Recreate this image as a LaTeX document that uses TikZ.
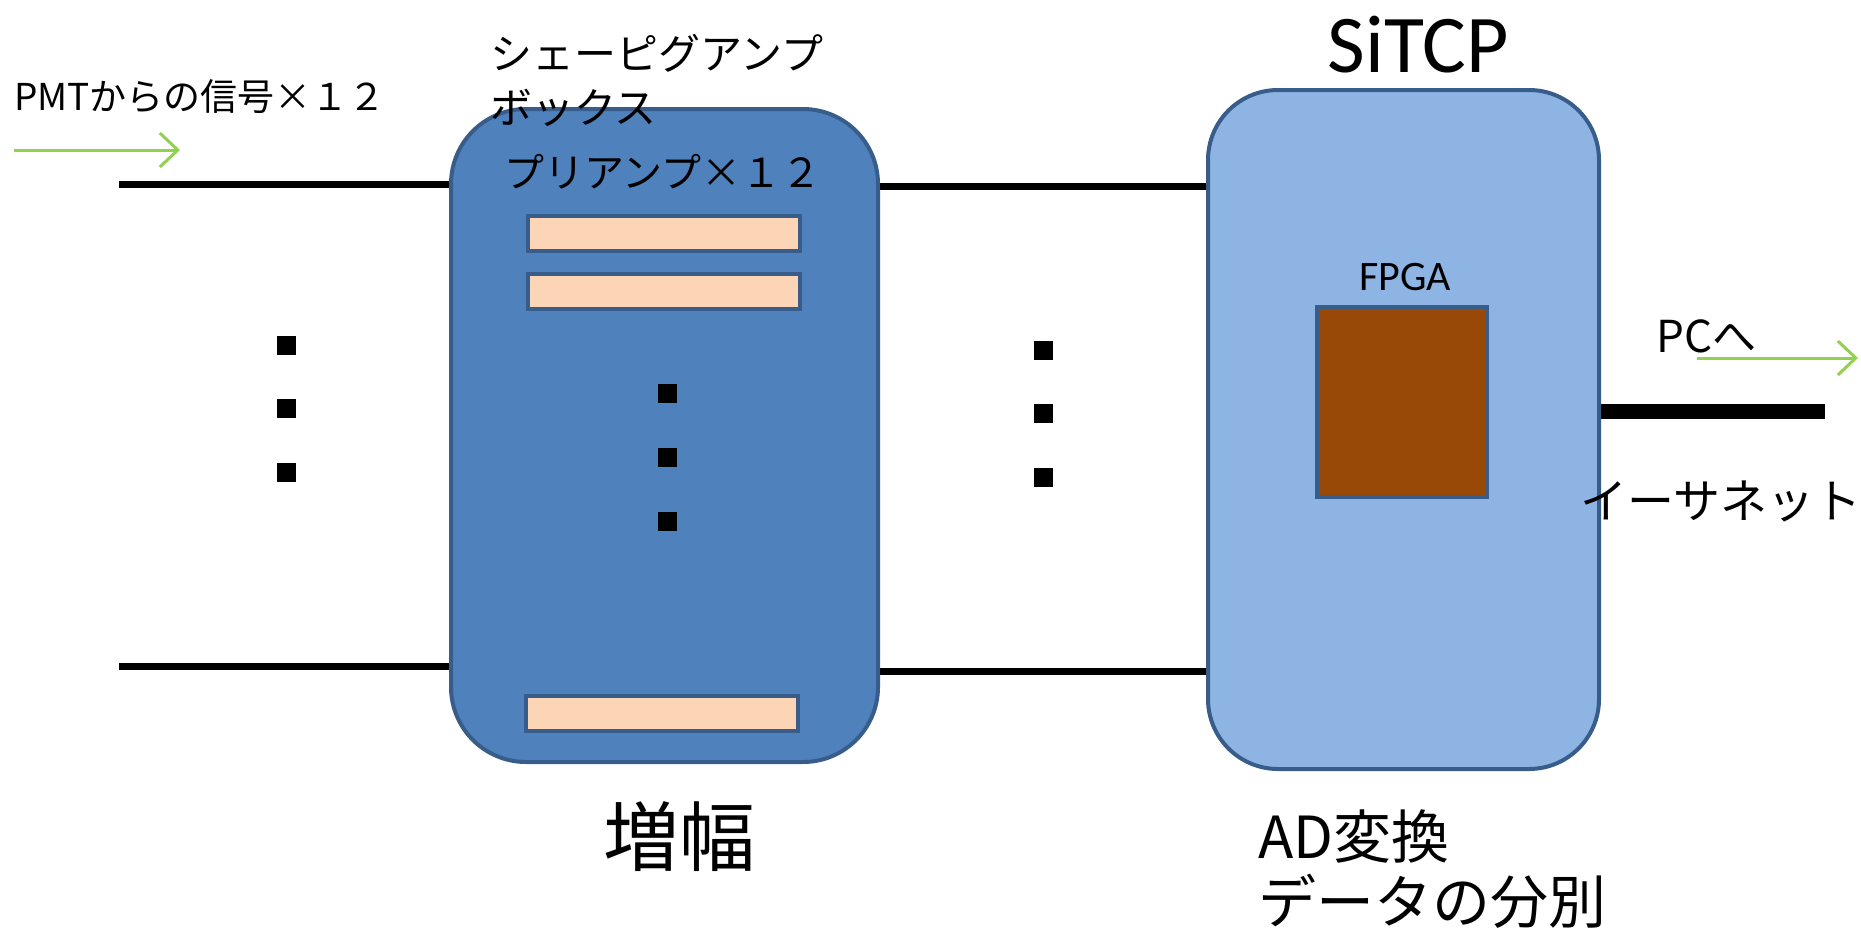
\documentclass[tikz,border=0pt]{standalone}
\usepackage{fontspec}
\usepackage{xcolor}
\usepackage{tikz}
\usetikzlibrary{
    arrows.meta,
    positioning,
    calc
}
\newfontfamily\jpfont{Noto Sans CJK JP}
\newfontfamily\calfont{Carlito}
\definecolor{ampblue}{HTML}{4F81BD}
\definecolor{sitblue}{HTML}{8EB4E3}
\definecolor{edgeblue}{HTML}{385D8A}
\definecolor{peach}{HTML}{FBD5B5}
\definecolor{fpgabrown}{HTML}{984807}
\definecolor{flowgreen}{HTML}{92D050}
\tikzset{
    ampbox/.style={
        rectangle,
        rounded corners=75pt,
        draw=edgeblue,
        fill=ampblue,
        line width=4pt,
        minimum width=427pt,
        minimum height=653pt
    },
    sitbox/.style={
        rectangle,
        rounded corners=70pt,
        draw=edgeblue,
        fill=sitblue,
        line width=4pt,
        minimum width=391pt,
        minimum height=679pt
    },
    barbox/.style={
        rectangle,
        draw=edgeblue,
        fill=peach,
        line width=4pt,
        minimum width=272pt,
        minimum height=35pt
    },
    chipbox/.style={
        rectangle,
        draw=edgeblue,
        fill=fpgabrown,
        line width=4pt,
        minimum width=170pt,
        minimum height=190pt
    },
    dotbox/.style={
        rectangle,
        fill=black,
        inner sep=0pt,
        minimum size=19pt
    },
    wire/.style={
        line width=7pt,
        black
    },
    ethwire/.style={
        line width=15pt,
        black
    },
    flow/.style={
        -{Straight Barb[length=18pt,width=34pt,line width=3pt]},
        line width=3pt,
        flowgreen
    },
    label/.style={
        inner sep=0pt,
        align=left
    }
}
\begin{document}
\begin{tikzpicture}[x=1pt,y=-1pt]
\useasboundingbox (0,0) rectangle (1861,927);

% boxes
\node[ampbox] (amp) at (664.5,435.5) {};
\node[sitbox] (sitcp) at (1403.5,429.5) {};
\node[barbox] (bar1) at (664,233.5) {};
\node[barbox] (bar2) at (664,291) {};
\node[barbox] (bar3) at (662,713) {};
\node[chipbox] (fpga) at (1402,402) {};

% labels
\node[label, anchor=west, font=\jpfont\fontsize{37}{40}\selectfont] (pmtlbl) at (14,97) {PMTからの信号×１２};
\node[label, anchor=west, font=\jpfont\fontsize{42}{54}\selectfont] (shapelbl) at (490,80) {シェーピグアンプ\\ボックス};
\node[label, anchor=west, font=\jpfont\fontsize{40}{48}\selectfont] (prelbl) at (504,172) {プリアンプ×１２};
\node[label, font=\jpfont\fontsize{76}{80}\selectfont] (amplbl) at (679,837) {増幅};
\node[label, font=\calfont\fontsize{82}{90}\selectfont] (sitlbl) at (1418,45) {SiTCP};
\node[label, font=\calfont\fontsize{42}{46}\selectfont] (fpgalbl) at (1405,277) {FPGA};
\node[label, anchor=west, font=\jpfont\fontsize{44}{48}\selectfont] (pclbl) at (1656,336) {PCへ};
\node[label, anchor=west, font=\jpfont\fontsize{47}{50}\selectfont] (ethlbl) at (1580,501) {イーサネット};
\node[label, anchor=west, font=\jpfont\fontsize{58}{65}\selectfont] (adlbl) at (1258,869) {AD変換\\データの分別};

% dots
\foreach \y in {345,408,472} \node[dotbox] (dl\y) at (286,\y) {};
\foreach \y in {393,457,521} \node[dotbox] (da\y) at (667,\y) {};
\foreach \y in {350,413,477} \node[dotbox] (dm\y) at (1043,\y) {};

% wires
\coordinate (inA) at (119,184);
\coordinate (inB) at (119,666);
\coordinate (rowA) at (0,186);
\coordinate (rowB) at (0,671);
\coordinate (eth) at (1825,411);
\draw[wire] (inA) -- (inA -| amp.west);
\draw[wire] (inB) -- (inB -| amp.west);
\draw[wire] (amp.east |- rowA) -- (sitcp.west |- rowA);
\draw[wire] (amp.east |- rowB) -- (sitcp.west |- rowB);
\draw[ethwire] (sitcp.east |- eth) -- (eth);

% signal arrows
\coordinate (sigS) at (14,150);
\coordinate (sigE) at (180,150);
\coordinate (pcS) at (1697,358);
\coordinate (pcE) at (1858,358);
\draw[flow] (sigS) -- (sigE);
\draw[flow] (pcS) -- (pcE);
\end{tikzpicture}
\end{document}
